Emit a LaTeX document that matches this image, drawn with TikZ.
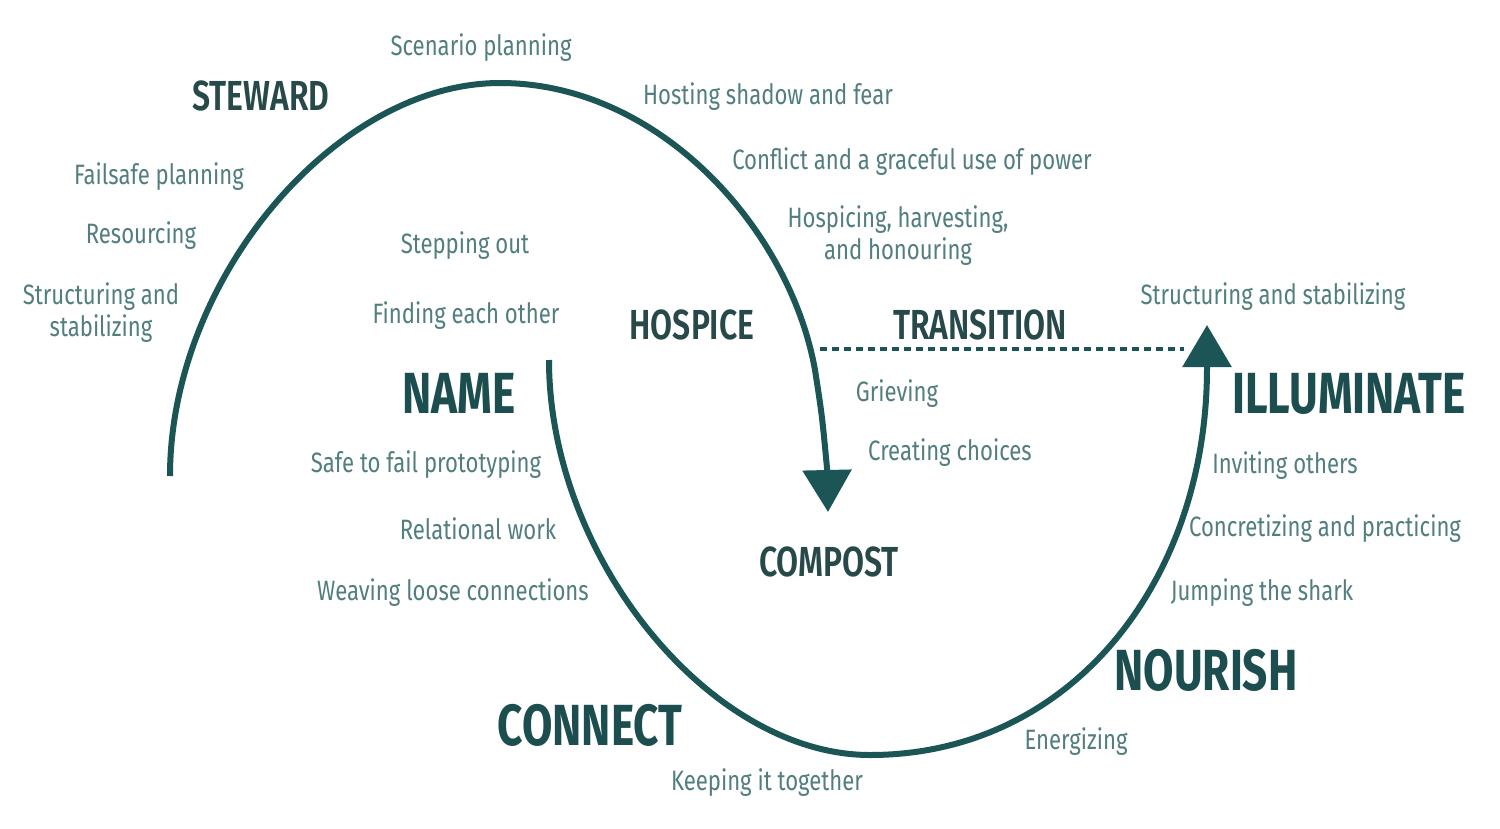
\documentclass[tikz,border=0pt]{standalone}
\usepackage{fontspec}
\setmainfont{Fira Sans}[FakeStretch=0.79]
\newfontfamily\headfont{Fira Sans}[FakeStretch=0.76,UprightFont=*-SemiBold,BoldFont=*-Bold]
\usetikzlibrary{arrows.meta}
\definecolor{curve}{HTML}{1B5556}
\definecolor{body}{HTML}{527E7F}
\definecolor{headA}{HTML}{27494A}
\definecolor{headB}{HTML}{1C4D4F}
\tikzset{
  lbl/.style={font=\fontsize{28}{32}\selectfont, text=body, inner sep=0pt, align=center},
  hmid/.style={font=\headfont\fontsize{42}{46}\selectfont, text=headA, inner sep=0pt},
  hbig/.style={font=\headfont\bfseries\fontsize{58}{62}\selectfont, text=headB, inner sep=0pt},
  flow/.style={draw=curve, line width=6pt},
  tipA/.style={-{Triangle[width=48pt,length=42pt]}},
  trans/.style={draw=curve, line width=4pt, dash pattern=on 7pt off 5pt}
}
\begin{document}
\begin{tikzpicture}[x=1pt,y=-1pt]
\useasboundingbox[fill=white] (0,0) rectangle (1500,828);
% curves
\coordinate (s1) at (170,476);
\coordinate (e1) at (828,512);
\coordinate (s2) at (549,360);
\coordinate (e2) at (1207,325);
\coordinate (t1) at (820,349);
\coordinate (t2) at (1184,349);
\draw[flow,tipA,curve] (s1) .. controls (170,280) and (335,83) .. (500,83)
   .. controls (660,83) and (790,230) .. (815,370)
   .. controls (822,415) .. (827,468) -- (e1);
\draw[flow,tipA,curve] (s2) .. controls (549,557) and (710,755) .. (870,755)
   .. controls (1072,755) and (1207,580) .. (1207,368) -- (e2);
\draw[trans] (t1) -- (t2);
% headings
\node[hmid] (steward) at (261,96) {STEWARD};
\node[hmid] (hospice) at (692,325) {HOSPICE};
\node[hmid] (transition) at (980,325) {TRANSITION};
\node[hmid] (compost) at (829,562) {COMPOST};
\node[hbig] (name) at (459,393) {NAME};
\node[hbig] (illuminate) at (1349,394) {ILLUMINATE};
\node[hbig] (nourish) at (1206,670) {NOURISH};
\node[hbig] (connect) at (590,725) {CONNECT};
% labels
\node[lbl] (l1) at (481,48) {Scenario planning};
\node[lbl] (l2) at (768,97) {Hosting shadow and fear};
\node[lbl] (l3) at (912,162) {Conflict and a graceful use of power};
\node[lbl] (l4) at (898,236) {Hospicing, harvesting,\\and honouring};
\node[lbl] (l5) at (159,177) {Failsafe planning};
\node[lbl] (l6) at (141,236) {Resourcing};
\node[lbl] (l7) at (101,313) {Structuring and\\stabilizing};
\node[lbl] (l8) at (465,246) {Stepping out};
\node[lbl] (l9) at (466,316) {Finding each other};
\node[lbl] (l10) at (1273,297) {Structuring and stabilizing};
\node[lbl] (l11) at (897,394) {Grieving};
\node[lbl] (l12) at (950,453) {Creating choices};
\node[lbl] (l13) at (426,465) {Safe to fail prototyping};
\node[lbl] (l14) at (1285,466) {Inviting others};
\node[lbl] (l15) at (478,529) {Relational work};
\node[lbl] (l16) at (1325,529) {Concretizing and practicing};
\node[lbl] (l17) at (453,593) {Weaving loose connections};
\node[lbl] (l18) at (1262,593) {Jumping the shark};
\node[lbl] (l19) at (1076,742) {Energizing};
\node[lbl] (l20) at (767,783) {Keeping it together};
\end{tikzpicture}
\end{document}
